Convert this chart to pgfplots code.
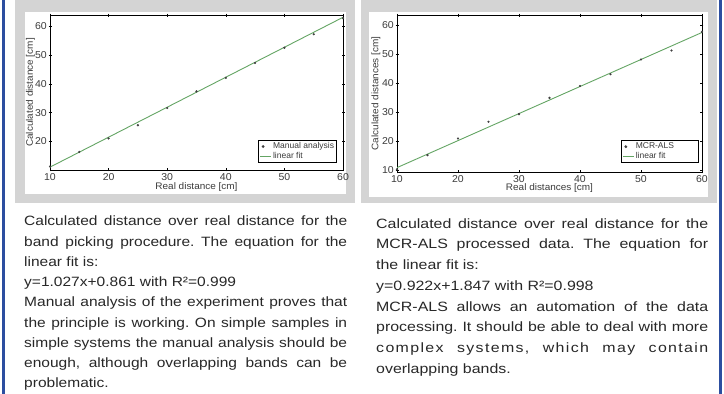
\documentclass[border=0pt]{standalone}
\usepackage{fontspec}
\setmainfont{Liberation Sans}
\newfontfamily\lefttext{Liberation Sans}[FakeStretch=1.15]
\newfontfamily\righttext{Liberation Sans}[FakeStretch=1.18]
\newfontfamily\plotfont{Liberation Sans}[FakeStretch=1.05]
\usepackage{pgfplots}
\pgfplotsset{compat=1.18}
\definecolor{panelgray}{RGB}{212,212,212}
\definecolor{barblue}{RGB}{44,78,160}
\definecolor{fitgreen}{RGB}{100,165,100}
\definecolor{txt}{RGB}{40,40,40}
\definecolor{axtxt}{RGB}{60,60,60}
\pgfplotsset{mystyle/.style={
  scale only axis, xmin=10, xmax=60, xtick={10,20,...,60},
  tick align=center, major tick length=3pt,
  tick style={black, line width=0.6pt},
  axis line style={line width=0.8pt, black},
  /pgf/number format/assume math mode=true,
  tick label style={font=\fontsize{10}{10}\plotfont, text=axtxt},
  xticklabel style={inner sep=0pt, yshift=-1.5pt},
  yticklabel style={inner sep=0pt, xshift=-1.5pt},
  legend style={font=\fontsize{8.5}{9}\selectfont, text=axtxt, draw=black, line width=0.9pt,
    inner sep=1pt, row sep=-1pt, nodes={inner sep=1.5pt}, cells={anchor=west},
    at={(1,0)}, anchor=south east},
  legend cell align=left,
},
dotleg/.style={legend image code/.code={\draw[##1] plot coordinates {(3pt,0pt)};}},
lineleg/.style={legend image code/.code={\draw[##1] (0pt,0pt) -- (11pt,0pt);}}
}
\newcommand\J[2]{\hbox to #1{#2}}
\begin{document}
\frenchspacing
\begin{tikzpicture}
\path[use as bounding box, fill=white] (0,0) rectangle (724pt,394pt);
\fill[barblue] (2pt,0pt) rectangle (5pt,394pt);
\fill[barblue] (719pt,0pt) rectangle (722pt,394pt);
\fill[panelgray] (15pt,191pt) rectangle (355pt,394pt);
\fill[white] (25pt,200pt) rectangle (346pt,382pt);
\fill[panelgray] (361pt,191pt) rectangle (717pt,394pt);
\fill[white] (369pt,197pt) rectangle (708pt,382pt);

\begin{axis}[mystyle, at={(50pt,224pt)}, anchor=south west, width=293pt, height=155pt,
  ymin=10, ymax=64, ytick={20,30,...,60},
  every axis x label/.style={at={(axis description cs:0.5,0)}, anchor=center, yshift=-17.5pt, font=\fontsize{9.5}{10}\plotfont, text=axtxt},
  every axis y label/.style={at={(axis description cs:0,0.5)}, rotate=90, anchor=center, yshift=19.5pt, font=\fontsize{9.5}{10}\plotfont, text=axtxt},
  xlabel={Real distance [cm]}, ylabel={Calculated distance [cm]},
  legend style={xshift=-6pt, yshift=7pt}]
\addplot[only marks, mark=*, mark size=0.9pt, color=black!75, dotleg]
  coordinates {(10,11.2)(15,16.3)(20,21.0)(25,25.6)(30,31.6)(35,37.4)(40,42.1)(45,47.3)(50,52.6)(55,57.3)(60,62.9)};
\addlegendentry{Manual analysis}
\addplot[fitgreen, line width=0.9pt, lineleg]
  coordinates {(10,11.0)(60,63.2)};
\addlegendentry{linear fit}
\end{axis}

\begin{axis}[mystyle, at={(397pt,222pt)}, anchor=south west, width=305pt, height=157pt,
  ymin=9.4, ymax=63.4, ytick={10,20,...,60},
  every axis x label/.style={at={(axis description cs:0.5,0)}, anchor=center, yshift=-16.5pt, font=\fontsize{9.5}{10}\plotfont, text=axtxt},
  every axis y label/.style={at={(axis description cs:0,0.5)}, rotate=90, anchor=center, yshift=21pt, font=\fontsize{9.5}{10}\plotfont, text=axtxt},
  xlabel={Real distances [cm]}, ylabel={Calculated distances [cm]},
  legend style={xshift=-3pt, yshift=9pt}]
\addplot[only marks, mark=*, mark size=0.9pt, color=black!75, dotleg]
  coordinates {(10,10.3)(15,15.2)(20,20.9)(25,26.7)(30,29.3)(35,34.9)(40,39.0)(45,43.0)(50,48.1)(55,51.2)(60,57.6)};
\addlegendentry{MCR-ALS\hspace*{22pt}}
\addplot[fitgreen, line width=0.9pt, lineleg]
  coordinates {(10,10.9)(60,57.4)};
\addlegendentry{linear fit}
\end{axis}

\node[anchor=base west, inner sep=0pt, text=txt] at (24pt,168pt) {\begin{minipage}[t]{323pt}\lefttext\fontsize{13.5}{20.25}\selectfont
\J{323pt}{Calculated distance over real distance for the}
\J{323pt}{band picking procedure. The equation for the}
\hbox{linear fit is:}
\hbox{y=1.027x+0.861 with R²=0.999}
\J{323pt}{Manual analysis of the experiment proves that}
\J{323pt}{the principle is working. On simple samples in}
\J{323pt}{simple systems the manual analysis should be}
\J{323pt}{enough, although overlapping bands can be}
\hbox{problematic.}
\end{minipage}};

\node[anchor=base west, inner sep=0pt, text=txt] at (376pt,165.7pt) {\begin{minipage}[t]{332pt}\righttext\fontsize{13.5}{20.7}\selectfont
\J{332pt}{Calculated distance over real distance for the}
\J{332pt}{MCR-ALS processed data. The equation for}
\hbox{the linear fit is:}
\hbox{y=0.922x+1.847 with R²=0.998}
\J{332pt}{MCR-ALS allows an automation of the data}
\J{332pt}{processing. It should be able to deal with more}
\J{332pt}{\addfontfeature{LetterSpace=10}complex systems, which may contain}
\hbox{overlapping bands.}
\end{minipage}};
\end{tikzpicture}
\end{document}
